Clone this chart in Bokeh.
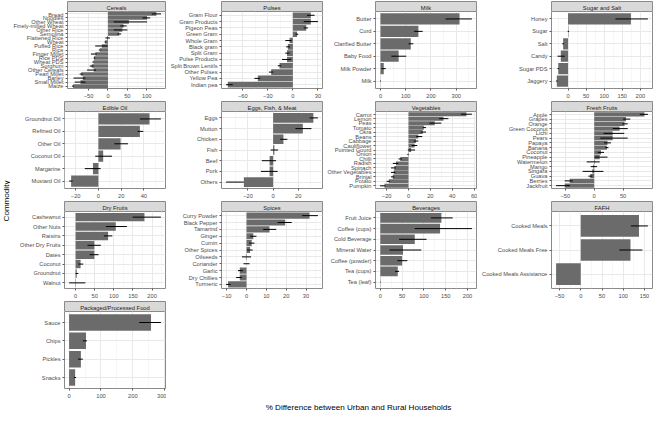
import math
from bokeh.plotting import figure
from bokeh.layouts import row, column
from bokeh.models import FactorRange, Range1d, FixedTicker
from bokeh.core.properties import value
from bokeh.embed import file_html
from bokeh.resources import INLINE

FONT = "Liberation Sans"

# ---------------- data ----------------
cereals_items = ["Bread", "Noodles", "Other Wheat", "Finely-milled Wheat", "Other Rice", "Semolina",
                 "Flattened Rice", "Wheat", "Puffed Rice", "Rice", "Finger Millet", "Rice PDS", "Wheat PDS",
                 "Sorghum", "Other Cereals", "Pearl Millet", "Barley", "Small Millet", "Maize"]
cereals_diff = [125, 101, 54, 40, 37, 29, -2.4, -7.3, -16, -21, -32.5, -36, -37, -42, -37, -69, -65, -71, -90]
cereals_lo = [113, 89, 15, 32, 15, 24, -6.5, -9, -33, -23.5, -44, -37, -40, -47, -54, -73, -89, -86, -93]
cereals_hi = [137, 109, 101, 48, 50, 34, 5, -5, -1, -19.5, -29, -33, -36, -37, -31, -65, -58, -58, -88]
cereals_ticks = [-50, 0, 50, 100]

pulses_items = ["Gram Flour", "Gram Products", "Pigeon Peas", "Green Gram", "Whole Gram", "Black gram",
                "Split Gram", "Pulse Products", "Split Brown Lentils", "Other Pulses", "Yellow Pea", "Indian pea"]
pulses_diff = [21.5, 21.5, 16, 5, -4, -6, -7, -7, -16, -26, -42, -78]
pulses_lo = [17, 13, 13, 3, -9, -8, -9, -13, -18, -28.5, -46, -80]
pulses_hi = [26, 30, 18, 6.5, -1.5, -3.5, -4, -2, -14, -23.5, -39, -72]
pulses_ticks = [-60, -30, 0, 30]

milk_items = ["Butter", "Curd", "Clarified Butter", "Baby Food", "Milk Powder", "Milk"]
milk_diff = [313, 150, 120, 72, 13, 0.5]
milk_lo = [258, 133, 111, 43, 4, -1.5]
milk_hi = [362, 167, 130, 102, 21, 2]
milk_ticks = [0, 100, 200, 300]

sugar_items = ["Honey", "Sugar", "Salt", "Candy", "Sugar PDS", "Jaggery"]
sugar_diff = [174, 1, -13.5, -20, -27, -31]
sugar_lo = [131, -1, -16, -29, -29, -33]
sugar_hi = [221, 3, -11, -9, -25, -29]
sugar_ticks = [0, 50, 100, 150, 200]

oil_items = ["Groundnut Oil", "Refined Oil", "Other Oil", "Coconut Oil", "Margarine", "Mustard Oil"]
oil_diff = [45, 36.5, 19.5, 4.2, -4.8, -24]
oil_lo = [36.5, 34.5, 14, -2.8, -12, -25.8]
oil_hi = [55, 39.5, 26, 12, 2, -22.7]
oil_ticks = [-20, 0, 20, 40]

meat_items = ["Eggs", "Mutton", "Chicken", "Fish", "Beef", "Pork", "Others"]
meat_diff = [32, 23.6, 8.2, 1, -2.8, -2.8, -23.3]
meat_lo = [29, 17.7, 5.6, -2, -9, -9.7, -37.4]
meat_hi = [35.6, 30.5, 11.3, 4, 2.3, 3.6, -23.3]
meat_ticks = [-20, 0, 20]

veg_items = ["Carrot", "Lemon", "Peas", "Tomato", "Okra", "Beans", "Cabbage", "Cauliflower", "Pointed Gourd",
             "Onion", "Chilli", "Radish", "Spinach", "Other Vegetables", "Brinjal", "Potato", "Pumpkin"]
veg_diff = [53, 32, 24, 14, 13, 9, 6.8, 5.6, 2.4, -0.5, -7.6, -11.5, -13, -13.5, -14.4, -18, -22]
veg_lo = [48, 28, 19, 13, 11, 7, 4.7, 3, -0.6, -1, -9, -14.4, -16, -16, -16, -20, -26]
veg_hi = [58, 36.5, 30, 16, 16, 12.6, 9, 8, 6, 0, -6, -9.4, -11.5, -12, -13, -17, -21]
veg_ticks = [-20, 0, 20, 40, 60]

fruit_items = ["Apple", "Grapes", "Orange", "Green Coconut", "Lichi", "Pears", "Papaya", "Banana", "Coconut",
               "Pineapple", "Watermelon", "Mango", "Singara", "Guava", "Berries", "Jackfruit"]
fruit_diff = [87, 55, 52.5, 44, 32, 32, 23, 22, 11.7, 9.5, 1, -1.7, -3.4, -7, -42.5, -51]
fruit_lo = [79, 50, 48.6, 32, 16, 10.6, 17, 19, 6, 0.5, -13, -6, -20, -10, -51, -66]
fruit_hi = [93, 62.5, 58, 58, 52, 58, 29, 24.6, 17, 23, 9.5, 5, 16, -3, -37, -42]
fruit_ticks = [-50, 0, 50]

dry_items = ["Cashewnut", "Other Nuts", "Raisins", "Other Dry Fruits", "Dates", "Coconut", "Groundnut", "Walnut"]
dry_diff = [180, 105, 85, 49, 49, 13, 3, -1]
dry_lo = [149, 79, 74, 31, 37, 7, 0, -17]
dry_hi = [223, 134, 96, 66, 60, 20, 7, 25.5]
dry_ticks = [0, 50, 100, 150, 200]

spice_items = ["Curry Powder", "Black Pepper", "Tamarind", "Ginger", "Cumin", "Other Spices", "Oilseeds",
               "Coriander", "Garlic", "Dry Chillies", "Turmeric"]
spice_diff = [31.8, 19.5, 11.6, 3.4, 2.6, 1.8, -0.3, 0, -3.4, -3.4, -9.3]
spice_lo = [28, 15.7, 8.4, 1.8, 1.3, 0.2, -2.3, -1.5, -4.3, -5.2, -10.3]
spice_hi = [36, 22.8, 15, 5, 4, 3.1, 2.3, 1.5, -1.8, -2.3, -8]
spice_ticks = [-10, 0, 10, 20, 30]

bev_items = ["Fruit Juice", "Coffee (cups)", "Cold Beverage", "Mineral Water", "Coffee (powder)", "Tea (cups)",
             "Tea (leaf)"]
bev_diff = [140, 137, 79, 52, 50, 40, 0.5]
bev_lo = [116, 79, 43, 21, 39, 34, -0.5]
bev_hi = [166, 210, 106, 94, 62, 43, 1]
bev_ticks = [0, 50, 100, 150, 200]

fafh_items = ["Cooked Meals", "Cooked Meals Free", "Cooked Meals Assistance"]
fafh_diff = [137, 117, -58]
fafh_lo = [118, 91, -58]
fafh_hi = [158, 145, -58]
fafh_ticks = [-50, 0, 50, 100, 150]

pack_items = ["Sauce", "Chips", "Pickles", "Snacks"]
pack_diff = [257, 53, 37, 19]
pack_lo = [220, 43, 28, 15]
pack_hi = [288, 56, 43, 22]
pack_ticks = [0, 100, 200, 300]

panels = [
    ("Cereals", cereals_items, cereals_diff, cereals_lo, cereals_hi, cereals_ticks),
    ("Pulses", pulses_items, pulses_diff, pulses_lo, pulses_hi, pulses_ticks),
    ("Milk", milk_items, milk_diff, milk_lo, milk_hi, milk_ticks),
    ("Sugar and Salt", sugar_items, sugar_diff, sugar_lo, sugar_hi, sugar_ticks),
    ("Edible Oil", oil_items, oil_diff, oil_lo, oil_hi, oil_ticks),
    ("Eggs, Fish, & Meat", meat_items, meat_diff, meat_lo, meat_hi, meat_ticks),
    ("Vegetables", veg_items, veg_diff, veg_lo, veg_hi, veg_ticks),
    ("Fresh Fruits", fruit_items, fruit_diff, fruit_lo, fruit_hi, fruit_ticks),
    ("Dry Fruits", dry_items, dry_diff, dry_lo, dry_hi, dry_ticks),
    ("Spices", spice_items, spice_diff, spice_lo, spice_hi, spice_ticks),
    ("Beverages", bev_items, bev_diff, bev_lo, bev_hi, bev_ticks),
    ("FAFH", fafh_items, fafh_diff, fafh_lo, fafh_hi, fafh_ticks),
    ("Packaged/Processed Food", pack_items, pack_diff, pack_lo, pack_hi, pack_ticks),
]

# ---------------- layout constants ----------------
TOTAL_W, TOTAL_H = 653, 414
LEFT_W = 10
COL_L = [54, 55, 52, 74]
PW = 101
R = 1
STRIP_H = 11
PH = 79
AX_H = 10
TITLE_H = 14

BAR = "#6B6B6B"
BORDER = "#8A8A8A"
TICKC = "#4D4D4D"
FS = "5.7px"
TITLE_FS = "8.1px"


def strip_fig(title, L):
    s = figure(width=L + PW + R, height=STRIP_H, x_range=Range1d(0, 1), y_range=Range1d(0, 1),
               x_axis_type=None, y_axis_type=None, toolbar_location=None, output_backend="svg",
               min_border_left=L, min_border_right=R, min_border_top=0, min_border_bottom=0)
    s.background_fill_color = "#D9D9D9"
    s.border_fill_color = "white"
    s.outline_line_color = BORDER
    s.outline_line_width = 1
    s.grid.visible = False
    s.text(x=[0.5], y=[0.45], text=[title], text_align="center", text_baseline="middle",
           text_font=value(FONT), text_font_size="5.8px", text_color="#1A1A1A")
    return s


def panel_fig(items, diff, lo, hi, ticks, L):
    n = len(items)
    lo_all = min(min(lo), min(diff), 0)
    hi_all = max(max(hi), max(diff), 0)
    pad = 0.05 * (hi_all - lo_all)
    p = figure(width=L + PW + R, height=PH + AX_H,
               x_range=Range1d(lo_all - pad, hi_all + pad),
               y_range=FactorRange(factors=list(reversed(items)), range_padding=0.2 / n,
                                   range_padding_units="percent"),
               toolbar_location=None, output_backend="svg",
               min_border_left=L, min_border_right=R, min_border_top=0, min_border_bottom=AX_H)
    p.background_fill_color = "white"
    p.border_fill_color = "white"
    p.outline_line_color = BORDER
    p.outline_line_width = 1

    step = ticks[1] - ticks[0]
    minor = [t + step / 2 for t in [ticks[0] - step] + ticks]
    ticker = FixedTicker(ticks=ticks, minor_ticks=minor)
    p.xaxis.ticker = ticker
    p.xgrid.ticker = ticker
    p.xgrid.grid_line_color = "#E6E6E6"
    p.xgrid.grid_line_width = 0.9
    p.xgrid.minor_grid_line_color = "#F1F1F1"
    p.xgrid.minor_grid_line_width = 0.6
    p.ygrid.grid_line_color = "#E6E6E6"
    p.ygrid.grid_line_width = 0.9

    for ax in (p.xaxis[0], p.yaxis[0]):
        ax.axis_line_color = None
        ax.major_tick_line_color = "#333333"
        ax.major_tick_line_width = 0.8
        ax.major_tick_out = 2
        ax.major_tick_in = 0
        ax.minor_tick_line_color = None
        ax.major_label_text_font = FONT
        ax.major_label_text_font_size = FS
        ax.major_label_text_color = TICKC
    p.xaxis.major_label_standoff = 1
    p.yaxis.major_label_standoff = 2

    p.hbar(y=items, left=0, right=diff, height=0.9, fill_color=BAR, line_color=None)
    p.segment(x0=lo, y0=items, x1=hi, y1=items, line_color="black", line_width=1)
    return p


grid_rows = [[0, 1, 2, 3], [4, 5, 6, 7], [8, 9, 10, 11], [12]]
row_layouts = []
for r in grid_rows:
    cells = []
    for c, idx in enumerate(r):
        title, items, diff, lo, hi, ticks = panels[idx]
        L = COL_L[c]
        cells.append(column(strip_fig(title, L), panel_fig(items, diff, lo, hi, ticks, L), spacing=0))
    row_layouts.append(row(*cells, spacing=0))

# x-axis title
xt = figure(width=TOTAL_W - LEFT_W, height=TITLE_H, x_range=Range1d(0, TOTAL_W - LEFT_W),
            y_range=Range1d(0, TITLE_H), x_axis_type=None, y_axis_type=None, toolbar_location=None,
            output_backend="svg", min_border=0)
xt.outline_line_color = None
xt.grid.visible = False
panel_left = COL_L[0]
panel_right = TOTAL_W - LEFT_W - R
xt.text(x=[(panel_left + panel_right) / 2], y=[TITLE_H / 2], text=["% Difference between Urban and Rural Households"],
        text_align="center", text_baseline="middle", text_font=value(FONT), text_font_size=TITLE_FS,
        text_color="black")

# y-axis title
yt = figure(width=LEFT_W, height=TOTAL_H, x_range=Range1d(0, LEFT_W), y_range=Range1d(0, TOTAL_H),
            x_axis_type=None, y_axis_type=None, toolbar_location=None, output_backend="svg", min_border=0)
yt.outline_line_color = None
yt.grid.visible = False
top_panel = STRIP_H
bottom_panel = 3 * (STRIP_H + PH + AX_H) + STRIP_H + PH
yt.text(x=[LEFT_W / 2 + 0.5], y=[TOTAL_H - (top_panel + bottom_panel) / 2], text=["Commodity"], angle=math.pi / 2,
        text_align="center", text_baseline="middle", text_font=value(FONT), text_font_size=TITLE_FS,
        text_color="black")

layout = row(yt, column(*row_layouts, xt, spacing=0), spacing=0)

open("out.html", "w").write(file_html(layout, INLINE))
